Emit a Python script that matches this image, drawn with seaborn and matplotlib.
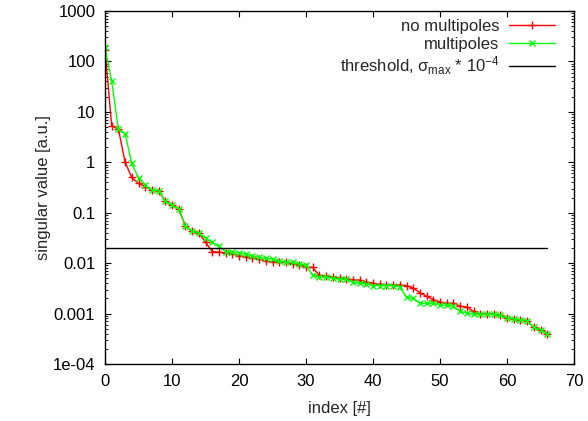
"""Singular value spectrum with and without multipoles (gnuplot-like look)."""

import matplotlib

matplotlib.use("Agg")
import matplotlib.pyplot as plt
import numpy as np
import pandas as pd
import seaborn as sns
from matplotlib.ticker import FixedFormatter, FixedLocator, LogLocator, NullFormatter

# singular values, index 0..66
no_multipoles = [
    170, 5.3, 4.6, 1.0, 0.5, 0.38, 0.33, 0.28, 0.27, 0.17,
    0.14, 0.12, 0.054, 0.043, 0.04, 0.026, 0.017, 0.0165, 0.016, 0.0155,
    0.014, 0.0135, 0.0128, 0.012, 0.011, 0.0106, 0.0105, 0.0103, 0.0098, 0.0093,
    0.0084, 0.0082, 0.0057, 0.0055, 0.0053, 0.0051, 0.0049, 0.0047, 0.0046, 0.0042,
    0.004, 0.0038, 0.0037, 0.0037, 0.0037, 0.0036, 0.0032, 0.0026, 0.0022, 0.0019,
    0.0017, 0.0016, 0.0016, 0.0014, 0.00135, 0.0011, 0.00098, 0.00097, 0.00097, 0.00092,
    0.00083, 0.00078, 0.00075, 0.00072, 0.00053, 0.00048, 0.0004,
]
multipoles = [
    190, 41, 4.5, 3.7, 0.95, 0.49, 0.35, 0.28, 0.27, 0.17,
    0.14, 0.12, 0.055, 0.043, 0.04, 0.031, 0.026, 0.0215, 0.017, 0.0165,
    0.016, 0.015, 0.014, 0.013, 0.0125, 0.012, 0.0108, 0.0105, 0.0103, 0.0098,
    0.009, 0.0057, 0.0053, 0.0053, 0.005, 0.0048, 0.0048, 0.0042, 0.004, 0.0039,
    0.0036, 0.0036, 0.0036, 0.0036, 0.0034, 0.0021, 0.002, 0.0016, 0.0016, 0.0016,
    0.0015, 0.00145, 0.0014, 0.0011, 0.00103, 0.00097, 0.00097, 0.00097, 0.00097, 0.00092,
    0.00083, 0.00078, 0.00075, 0.00072, 0.00053, 0.00048, 0.0004,
]
threshold_x = [0, 66]
threshold_y = [0.02, 0.02]

y_ticks = [1e-4, 1e-3, 1e-2, 1e-1, 1, 10, 100, 1000]
y_tick_labels = ["1e-04", "0.001", "0.01", "0.1", "1", "10", "100", "1000"]
x_ticks = [0, 10, 20, 30, 40, 50, 60, 70]

FS = 12

sns.set_style("ticks")
plt.rcParams["font.family"] = ["Liberation Sans", "DejaVu Sans"]
plt.rcParams["mathtext.fontset"] = "custom"
plt.rcParams["mathtext.rm"] = "Liberation Sans"
plt.rcParams["mathtext.it"] = "Liberation Sans"
plt.rcParams["font.size"] = FS

df = pd.DataFrame({
    "index": np.arange(len(no_multipoles)),
    "no multipoles": no_multipoles,
    "multipoles": multipoles,
})
thr = pd.DataFrame({"x": threshold_x, "y": threshold_y})

fig = plt.figure(figsize=(5.88, 4.21), dpi=100)
ax = fig.add_axes([105 / 588, 1 - 364 / 421, 469 / 588, 353 / 421])

sns.lineplot(data=df, x="index", y="no multipoles", ax=ax, color="#ff0000",
             marker="+", markersize=6, markeredgewidth=1.0, markeredgecolor="#ff0000",
             linewidth=1.0, label="no multipoles")
sns.lineplot(data=df, x="index", y="multipoles", ax=ax, color="#00ff00",
             marker="x", markersize=4.5, markeredgewidth=1.0, markeredgecolor="#00ff00",
             linewidth=1.0, label="multipoles")
sns.lineplot(data=thr, x="x", y="y", ax=ax, color="black", linewidth=1.0,
             label=r"threshold, $\sigma_{\rm max}$ * 10$^{-4}$")

ax.set_yscale("log")
ax.set_xlim(0, 70)
ax.set_ylim(1e-4, 1000)
ax.yaxis.set_major_locator(FixedLocator(y_ticks))
ax.yaxis.set_major_formatter(FixedFormatter(y_tick_labels))
ax.yaxis.set_minor_locator(LogLocator(base=10, subs=np.arange(2, 10), numticks=20))
ax.yaxis.set_minor_formatter(NullFormatter())
ax.set_xticks(x_ticks)
ax.tick_params(which="both", direction="in", top=True, right=True, labelsize=FS, colors="black")
ax.tick_params(which="major", length=4, width=0.8, pad=7)
ax.tick_params(which="minor", length=2, width=0.6)
for s in ax.spines.values():
    s.set_linewidth(1.0)
    s.set_color("black")

ax.set_xlabel("index [#]", fontsize=FS)
ax.set_ylabel("singular value [a.u.]", fontsize=FS)
ax.xaxis.labelpad = 9
ax.yaxis.labelpad = 1

leg = ax.legend(loc="upper right", bbox_to_anchor=(0.96, 0.978), frameon=False,
                markerfirst=False, handlelength=2.75, handletextpad=0.6,
                labelspacing=0.17, borderpad=0.0, borderaxespad=0.0, fontsize=FS)
for t in leg.get_texts():
    t.set_ha("right")
leg._legend_box.align = "right"

fig.savefig("out.png", dpi=100)
